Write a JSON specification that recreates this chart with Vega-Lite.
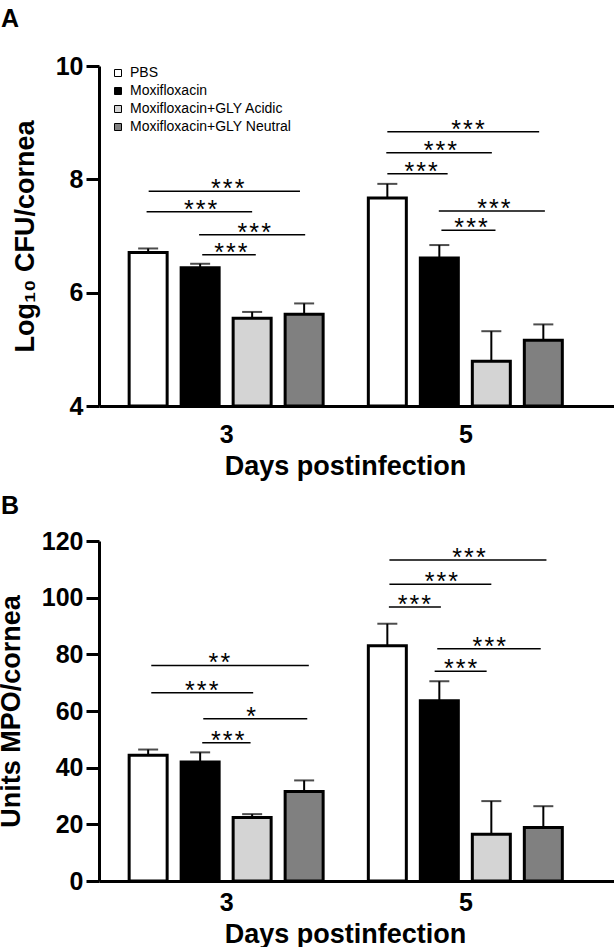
{
  "$schema": "https://vega.github.io/schema/vega-lite/v6.json",
  "padding": {"left": -3, "top": 7, "right": 0, "bottom": 0},
  "background": "white",
  "spacing": 15,
  "config": {
    "font": "Liberation Sans",
    "view": {"stroke": null},
    "axis": {
      "grid": false,
      "domainColor": "black",
      "domainWidth": 3,
      "tickColor": "black",
      "tickWidth": 3,
      "labelColor": "black",
      "labelFont": "Liberation Sans",
      "labelFontWeight": "bold",
      "labelFontSize": 25,
      "titleFont": "Liberation Sans",
      "titleFontWeight": "bold",
      "titleColor": "black",
      "titleFontSize": 27
    },
    "legend": {
      "orient": "none",
      "title": null,
      "symbolType": "square",
      "symbolSize": 49,
      "symbolStrokeColor": "black",
      "symbolStrokeWidth": 1,
      "labelFont": "Liberation Sans",
      "labelFontSize": 14,
      "labelColor": "black",
      "labelLimit": 0,
      "rowPadding": 4,
      "labelOffset": 5
    }
  },
  "datasets": {
    "cfu": [
      {"day": "3", "group": "PBS", "pos": 1, "value": 6.71, "err": 6.78},
      {"day": "3", "group": "Moxifloxacin", "pos": 2, "value": 6.44, "err": 6.51},
      {"day": "3", "group": "Moxifloxacin+GLY Acidic", "pos": 3, "value": 5.55, "err": 5.66},
      {"day": "3", "group": "Moxifloxacin+GLY Neutral", "pos": 4, "value": 5.62, "err": 5.81},
      {"day": "5", "group": "PBS", "pos": 5.6, "value": 7.67, "err": 7.92},
      {"day": "5", "group": "Moxifloxacin", "pos": 6.6, "value": 6.61, "err": 6.84},
      {"day": "5", "group": "Moxifloxacin+GLY Acidic", "pos": 7.6, "value": 4.79, "err": 5.32},
      {"day": "5", "group": "Moxifloxacin+GLY Neutral", "pos": 8.6, "value": 5.16, "err": 5.44}
    ],
    "cfusig": [
      {"x1": 1.01, "x2": 3.92, "y": 7.79, "tx": 2.53, "label": "*\u200a*\u200a*"},
      {"x1": 0.97, "x2": 3.0, "y": 7.43, "tx": 2.01, "label": "*\u200a*\u200a*"},
      {"x1": 1.98, "x2": 4.02, "y": 7.02, "tx": 3.04, "label": "*\u200a*\u200a*"},
      {"x1": 2.04, "x2": 3.07, "y": 6.67, "tx": 2.59, "label": "*\u200a*\u200a*"},
      {"x1": 5.6, "x2": 8.52, "y": 8.84, "tx": 7.15, "label": "*\u200a*\u200a*"},
      {"x1": 5.58, "x2": 7.61, "y": 8.47, "tx": 6.62, "label": "*\u200a*\u200a*"},
      {"x1": 5.6, "x2": 6.76, "y": 8.1, "tx": 6.25, "label": "*\u200a*\u200a*"},
      {"x1": 6.59, "x2": 8.63, "y": 7.44, "tx": 7.65, "label": "*\u200a*\u200a*"},
      {"x1": 6.64, "x2": 7.68, "y": 7.1, "tx": 7.21, "label": "*\u200a*\u200a*"}
    ],
    "mpo": [
      {"day": "3", "group": "PBS", "pos": 1, "value": 44.4, "err": 46.4},
      {"day": "3", "group": "Moxifloxacin", "pos": 2, "value": 42.0, "err": 45.4},
      {"day": "3", "group": "Moxifloxacin+GLY Acidic", "pos": 3, "value": 22.4, "err": 23.6},
      {"day": "3", "group": "Moxifloxacin+GLY Neutral", "pos": 4, "value": 31.6, "err": 35.5},
      {"day": "5", "group": "PBS", "pos": 5.6, "value": 83.0, "err": 90.8},
      {"day": "5", "group": "Moxifloxacin", "pos": 6.6, "value": 63.6, "err": 70.5},
      {"day": "5", "group": "Moxifloxacin+GLY Acidic", "pos": 7.6, "value": 16.5, "err": 28.2},
      {"day": "5", "group": "Moxifloxacin+GLY Neutral", "pos": 8.6, "value": 18.9, "err": 26.4}
    ],
    "mposig": [
      {"x1": 1.06, "x2": 4.09, "y": 76.1, "tx": 2.37, "label": "*\u200a*"},
      {"x1": 1.06, "x2": 3.02, "y": 66.4, "tx": 2.03, "label": "*\u200a*\u200a*"},
      {"x1": 2.06, "x2": 4.06, "y": 57.3, "tx": 2.98, "label": "*"},
      {"x1": 2.04, "x2": 2.97, "y": 48.8, "tx": 2.53, "label": "*\u200a*\u200a*"},
      {"x1": 5.64, "x2": 8.66, "y": 113.3, "tx": 7.17, "label": "*\u200a*\u200a*"},
      {"x1": 5.64, "x2": 7.6, "y": 104.7, "tx": 6.64, "label": "*\u200a*\u200a*"},
      {"x1": 5.63, "x2": 6.63, "y": 96.7, "tx": 6.12, "label": "*\u200a*\u200a*"},
      {"x1": 6.56, "x2": 8.55, "y": 82.0, "tx": 7.56, "label": "*\u200a*\u200a*"},
      {"x1": 6.51, "x2": 7.51, "y": 74.0, "tx": 7.01, "label": "*\u200a*\u200a*"}
    ]
  },
  "vconcat": [
    {
      "width": 515,
      "height": 340,
      "title": {"text": "A", "anchor": "start", "frame": "group", "dx": -98, "offset": 22, "fontSize": 25, "fontWeight": "bold", "color": "black", "font": "Liberation Sans"},
      "layer": [
        {
          "data": {"name": "cfu"},
          "mark": {"type": "bar", "size": 38, "stroke": "black", "strokeWidth": 3},
          "encoding": {
            "x": {"field": "pos", "type": "quantitative", "scale": {"domain": [0.151, 9.863], "nice": false, "zero": false},
              "axis": {"values": [2.5, 7.1], "labelExpr": "datum.value < 5 ? '3' : '5'", "ticks": false, "tickSize": 0, "labelFlush": false, "labelPadding": 16, "titlePadding": 6, "title": "Days postinfection", "titleX": 246}},
            "y": {"field": "value", "type": "quantitative", "scale": {"domain": [4, 10], "nice": false, "zero": false},
              "axis": {"values": [4, 6, 8, 10], "format": "d", "tickSize": 13, "labelPadding": 3, "titlePadding": 16, "title": "Log₁₀ CFU/cornea"}},
            "y2": {"datum": 4},
            "fill": {"field": "group", "type": "nominal",
              "scale": {"domain": ["PBS", "Moxifloxacin", "Moxifloxacin+GLY Acidic", "Moxifloxacin+GLY Neutral"], "range": ["#ffffff", "#000000", "#d4d4d4", "#808080"]},
              "legend": {"legendX": 12, "legendY": 0}}
          }
        },
        {
          "data": {"name": "cfu"},
          "mark": {"type": "rule", "strokeWidth": 2, "color": "black"},
          "encoding": {
            "x": {"field": "pos", "type": "quantitative"},
            "y": {"field": "value", "type": "quantitative"},
            "y2": {"field": "err"}
          }
        },
        {
          "data": {"name": "cfu"},
          "mark": {"type": "tick", "orient": "horizontal", "size": 20, "thickness": 2, "color": "black"},
          "encoding": {
            "x": {"field": "pos", "type": "quantitative"},
            "y": {"field": "err", "type": "quantitative"}
          }
        },
        {
          "data": {"name": "cfusig"},
          "mark": {"type": "rule", "strokeWidth": 1.5, "color": "black"},
          "encoding": {
            "x": {"field": "x1", "type": "quantitative"},
            "x2": {"field": "x2"},
            "y": {"field": "y", "type": "quantitative"}
          }
        },
        {
          "data": {"name": "cfusig"},
          "mark": {"type": "text", "fontSize": 25, "baseline": "alphabetic", "dy": 6, "color": "black", "font": "Liberation Sans"},
          "encoding": {
            "x": {"field": "tx", "type": "quantitative"},
            "y": {"field": "y", "type": "quantitative"},
            "text": {"field": "label"}
          }
        }
      ]
    },
    {
      "width": 515,
      "height": 340,
      "title": {"text": "B", "anchor": "start", "frame": "group", "dx": -98, "offset": 10, "fontSize": 25, "fontWeight": "bold", "color": "black", "font": "Liberation Sans"},
      "layer": [
        {
          "data": {"name": "mpo"},
          "mark": {"type": "bar", "size": 38, "stroke": "black", "strokeWidth": 3},
          "encoding": {
            "x": {"field": "pos", "type": "quantitative", "scale": {"domain": [0.151, 9.863], "nice": false, "zero": false},
              "axis": {"values": [2.5, 7.1], "labelExpr": "datum.value < 5 ? '3' : '5'", "ticks": false, "tickSize": 0, "labelFlush": false, "labelPadding": 9, "titlePadding": 6, "title": "Days postinfection", "titleX": 246}},
            "y": {"field": "value", "type": "quantitative", "scale": {"domain": [0, 120], "nice": false},
              "axis": {"values": [0, 20, 40, 60, 80, 100, 120], "format": "d", "tickSize": 13, "labelPadding": 3, "titlePadding": 16, "title": "Units MPO/cornea"}},
            "y2": {"datum": 0},
            "fill": {"field": "group", "type": "nominal",
              "scale": {"domain": ["PBS", "Moxifloxacin", "Moxifloxacin+GLY Acidic", "Moxifloxacin+GLY Neutral"], "range": ["#ffffff", "#000000", "#d4d4d4", "#808080"]},
              "legend": {"legendX": 10, "legendY": -1}}
          }
        },
        {
          "data": {"name": "mpo"},
          "mark": {"type": "rule", "strokeWidth": 2, "color": "black"},
          "encoding": {
            "x": {"field": "pos", "type": "quantitative"},
            "y": {"field": "value", "type": "quantitative"},
            "y2": {"field": "err"}
          }
        },
        {
          "data": {"name": "mpo"},
          "mark": {"type": "tick", "orient": "horizontal", "size": 20, "thickness": 2, "color": "black"},
          "encoding": {
            "x": {"field": "pos", "type": "quantitative"},
            "y": {"field": "err", "type": "quantitative"}
          }
        },
        {
          "data": {"name": "mposig"},
          "mark": {"type": "rule", "strokeWidth": 1.5, "color": "black"},
          "encoding": {
            "x": {"field": "x1", "type": "quantitative"},
            "x2": {"field": "x2"},
            "y": {"field": "y", "type": "quantitative"}
          }
        },
        {
          "data": {"name": "mposig"},
          "mark": {"type": "text", "fontSize": 25, "baseline": "alphabetic", "dy": 6, "color": "black", "font": "Liberation Sans"},
          "encoding": {
            "x": {"field": "tx", "type": "quantitative"},
            "y": {"field": "y", "type": "quantitative"},
            "text": {"field": "label"}
          }
        }
      ]
    }
  ],
  "resolve": {"scale": {"fill": "shared"}}
}
